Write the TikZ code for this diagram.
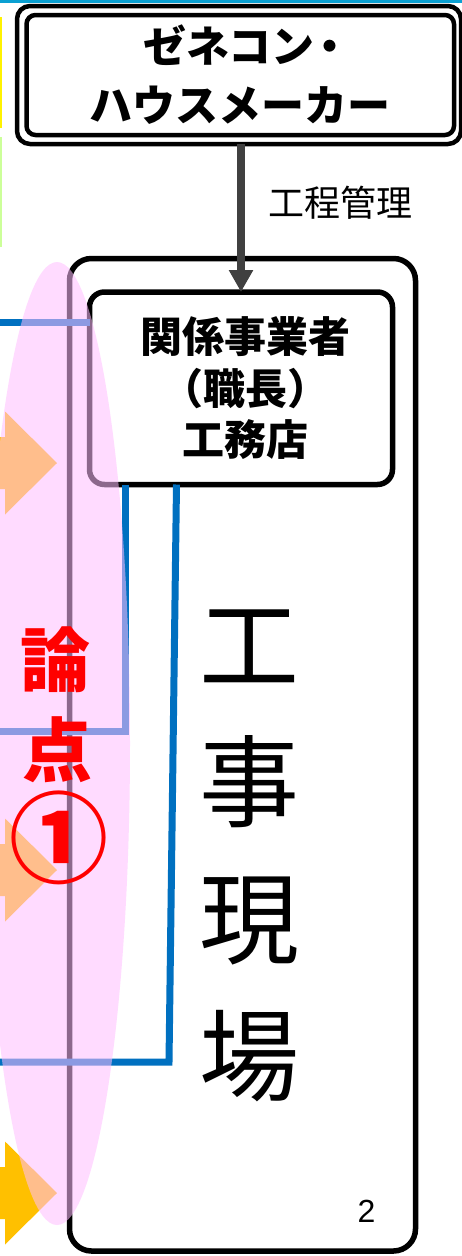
\documentclass[tikz,border=0pt]{standalone}
\usepackage{fontspec}
\setmainfont{Noto Sans CJK JP}
\newfontfamily\jpfont{Noto Sans CJK JP}
\newfontfamily\arialfont{Liberation Sans}
\usetikzlibrary{arrows.meta}
\definecolor{goldarrow}{RGB}{255,192,0}
\definecolor{pinkoval}{RGB}{255,190,255}
\definecolor{blueline}{RGB}{0,112,192}
\definecolor{darkgrey}{RGB}{64,64,64}
\definecolor{topcyan}{RGB}{10,160,210}
\definecolor{lightgreen}{RGB}{204,255,153}
\definecolor{redtext}{RGB}{255,0,0}
\begin{document}
\begin{tikzpicture}[x=1pt,y=-1pt,
  framebox/.style={draw=black, line width=5.5pt, fill=white, rectangle, inner sep=0pt, outer sep=0pt},
  thinframe/.style={draw=black, line width=4.5pt, fill=white, rectangle, inner sep=0pt, outer sep=0pt},
  bluelink/.style={draw=blueline, line width=7pt},
  goldshape/.style={fill=goldarrow},
  issuetext/.style={inner sep=0pt, text=redtext},
]
\useasboundingbox (0,0) rectangle (462,1256);
\fill[white] (0,0) rectangle (462,1256);

% edge fragments
\fill[topcyan] (0,0) rectangle (462,3);
\fill[yellow] (0,17) rectangle (2.3,128);
\fill[lightgreen] (0,137) rectangle (2.3,247);

% gold arrows (partly under the pink oval)
\foreach \yy in {463,870,1193}{
  \fill[goldshape] (-10,\yy-26) -- (5,\yy-26) -- (5,\yy-51.5) -- (57,\yy)
     -- (5,\yy+51.5) -- (5,\yy+26) -- (-10,\yy+26) -- cycle;
}

% top double box
\node[thinframe, minimum width=444pt, minimum height=138pt, rounded corners=13pt] (gcouter) at (239,75) {};
\node[thinframe, minimum width=427.5pt, minimum height=120pt, rounded corners=9pt,
      align=center, font=\jpfont\bfseries\fontsize{43}{59}\selectfont] (gc) at (240.25,75)
      {\raisebox{-2.5pt}{\hspace*{3pt}ゼネコン\kern-0.15em・\kern-0.25em}\\\raisebox{-2.5pt}{ハウスメーカー}};

% big site box
\node[framebox, minimum width=346pt, minimum height=992.5pt, rounded corners=22pt] (genba) at (242.5,754.75) {};

% inner box
\node[framebox, minimum width=303pt, minimum height=192.5pt, rounded corners=15pt,
      align=center, font=\jpfont\bfseries\fontsize{42}{51.5}\selectfont] (kankei) at (241,388.25)
      {\hspace*{8pt}関係事業者\\\hspace*{8pt}（職長）\\\hspace*{8pt}工務店};

% process-management arrow
\draw[draw=darkgrey, line width=8pt, -{Triangle[width=23pt,length=22pt]}]
  (kankei.north |- gcouter.south) -- (kankei.north);
\node[inner sep=0pt, font=\jpfont\fontsize{36}{36}\selectfont] (kotei) at (340,203) {工程管理};

% blue lines
\coordinate (aEnd) at (0,322);
\coordinate (colB) at (125,0);
\coordinate (bEnd) at (0,731);
\coordinate (colC) at (176.5,0);
\coordinate (cTurn) at (169,1062);
\coordinate (cEnd) at (0,1062);
\draw[bluelink] (aEnd) -- (aEnd -| kankei.west);
\draw[bluelink] (kankei.south -| colB) -- (colB |- bEnd) -- (bEnd);
\draw[bluelink] (kankei.south -| colC) -- (cTurn) -- (cEnd);

% big text
\node[inner sep=0pt, align=center, font=\jpfont\fontsize{100}{137}\selectfont] (site) at (249,856)
  {工\\事\\現\\場};
\node[inner sep=0pt, font=\arialfont\fontsize{32}{32}\selectfont] (pagenum) at (366.5,1211.5) {2};

% pink oval on top
\fill[pinkoval, opacity=0.55] (57,743.5) ellipse [x radius=73, y radius=481.5];

% issue label
\node[issuetext, font=\jpfont\bfseries\fontsize{70}{70}\selectfont] (ron) at (55.5,660) {論};
\node[issuetext, font=\jpfont\bfseries\fontsize{70}{70}\selectfont] (ten) at (57,750) {点};
\node[issuetext, font=\jpfont\bfseries\fontsize{99}{99}\selectfont] (maru) at (59,838) {①};
\end{tikzpicture}
\end{document}
